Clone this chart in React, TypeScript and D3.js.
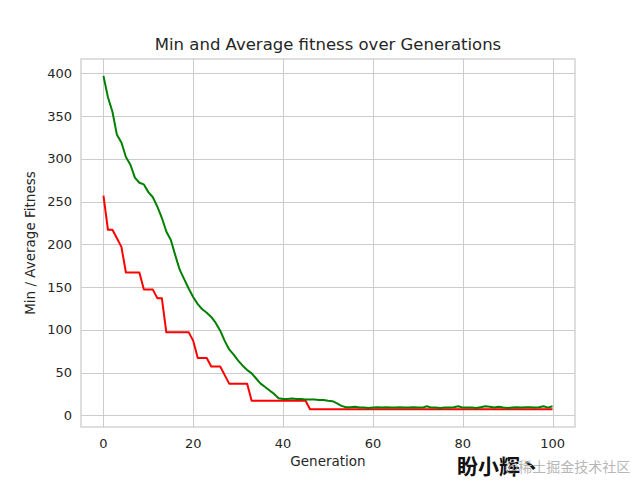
import React, { useEffect, useRef } from 'react';
import * as d3 from 'd3';

// Best (min) fitness of each generation
const minFitness: number[] = [
  257, 217, 217, 207, 197, 167, 167, 167, 167, 147,
  147, 147, 137, 137, 97, 97, 97, 97, 97, 97,
  87, 67, 67, 67, 57, 57, 57, 47, 37, 37,
  37, 37, 37, 17, 17, 17, 17, 17, 17, 17,
  17, 17, 17, 17, 17, 17, 7, 7, 7, 7,
  7, 7, 7, 7, 7, 7, 7, 7, 7, 7,
  7, 7, 7, 7, 7, 7, 7, 7, 7, 7,
  7, 7, 7, 7, 7, 7, 7, 7, 7, 7,
  7, 7, 7, 7, 7, 7, 7, 7, 7, 7,
  7, 7, 7, 7, 7, 7, 7, 7, 7, 7,
  7,
];

// Population average fitness of each generation
const meanFitness: number[] = [
  397, 372, 355, 328, 319, 302, 293, 278, 272, 270,
  261, 255, 244, 231, 215, 205, 187, 170, 159, 148,
  138, 130, 124, 120, 115, 108, 99, 87, 77, 71,
  64, 58, 53, 49, 43, 37, 33, 29, 25, 20,
  19, 19, 19.5, 19, 19, 18.5, 18.5, 18.5, 18, 18,
  17, 16.5, 14, 11, 9.5, 9.5, 10, 9, 9, 8.5,
  9, 9.5, 9, 9.5, 9, 9, 9.5, 9, 9, 9.5,
  9, 9, 10.5, 9, 9, 8.5, 9, 9, 9.5, 10.5,
  9, 9, 9, 8.5, 9.5, 10.5, 10, 9, 10, 9,
  8.5, 9, 9.5, 9, 9.5, 9.5, 9, 9.5, 10.5, 9,
  10.5,
];

const xTicks: number[] = [0, 20, 40, 60, 80, 100];
const yTicks: number[] = [0, 50, 100, 150, 200, 250, 300, 350, 400];

const FitnessChart = ({ width = 640, height = 490 }) => {
  const svgRef = useRef<SVGSVGElement>(null);

  useEffect(() => {
    const svg = d3.select(svgRef.current);
    svg.selectAll('*').remove();

    const left = 81, right = 575, top = 59, bottom = 427;
    const textColor = '#262626';
    const gridColor = '#cccccc';
    const font = '"DejaVu Sans", sans-serif';

    const gens = d3.range(minFitness.length);
    const xScale = d3.scaleLinear().domain([-5, 105]).range([left, right]);
    const yScale = d3.scaleLinear().domain([-13.7, 416.7]).range([bottom, top]);

    svg.append('rect')
      .attr('width', width)
      .attr('height', height)
      .attr('fill', 'white');

    // grid
    const grid = svg.append('g').attr('stroke', gridColor).attr('stroke-width', 1);
    grid.selectAll('.vgrid')
      .data(xTicks)
      .enter()
      .append('line')
      .attr('x1', d => Math.round(xScale(d)) + 0.5)
      .attr('x2', d => Math.round(xScale(d)) + 0.5)
      .attr('y1', top)
      .attr('y2', bottom);
    grid.selectAll('.hgrid')
      .data(yTicks)
      .enter()
      .append('line')
      .attr('x1', left)
      .attr('x2', right)
      .attr('y1', d => Math.round(yScale(d)) + 0.5)
      .attr('y2', d => Math.round(yScale(d)) + 0.5);

    // frame
    svg.append('rect')
      .attr('x', left)
      .attr('y', top)
      .attr('width', right - left)
      .attr('height', bottom - top)
      .attr('fill', 'none')
      .attr('stroke', gridColor)
      .attr('stroke-width', 1.3);

    // lines
    const line = d3.line<number>()
      .x((_, i) => xScale(gens[i]))
      .y(d => yScale(d));

    svg.append('path')
      .datum(minFitness)
      .attr('fill', 'none')
      .attr('stroke', '#ff0000')
      .attr('stroke-width', 2)
      .attr('stroke-linejoin', 'round')
      .attr('d', line);

    svg.append('path')
      .datum(meanFitness)
      .attr('fill', 'none')
      .attr('stroke', '#008000')
      .attr('stroke-width', 2)
      .attr('stroke-linejoin', 'round')
      .attr('d', line);

    // tick labels
    svg.append('g')
      .selectAll('text')
      .data(xTicks)
      .enter()
      .append('text')
      .attr('x', d => xScale(d))
      .attr('y', bottom + 21)
      .attr('text-anchor', 'middle')
      .attr('font-family', font)
      .attr('font-size', 13)
      .attr('fill', textColor)
      .text(d => d);

    svg.append('g')
      .selectAll('text')
      .data(yTicks)
      .enter()
      .append('text')
      .attr('x', left - 9)
      .attr('y', d => yScale(d))
      .attr('dy', '0.36em')
      .attr('text-anchor', 'end')
      .attr('font-family', font)
      .attr('font-size', 13)
      .attr('fill', textColor)
      .text(d => d);

    // axis titles
    svg.append('text')
      .attr('x', (left + right) / 2)
      .attr('y', 466)
      .attr('text-anchor', 'middle')
      .attr('font-family', font)
      .attr('font-size', 13.5)
      .attr('fill', textColor)
      .text('Generation');

    svg.append('text')
      .attr('transform', `translate(35,${(top + bottom) / 2}) rotate(-90)`)
      .attr('text-anchor', 'middle')
      .attr('font-family', font)
      .attr('font-size', 13.5)
      .attr('fill', textColor)
      .text('Min / Average Fitness');

    svg.append('text')
      .attr('x', (left + right) / 2)
      .attr('y', 50)
      .attr('text-anchor', 'middle')
      .attr('font-family', font)
      .attr('font-size', 16.5)
      .attr('fill', textColor)
      .text('Min and Average fitness over Generations');

    // watermark
    svg.append('text')
      .attr('x', 457)
      .attr('y', 474)
      .attr('font-family', '"Noto Sans CJK SC", sans-serif')
      .attr('font-weight', 'bold')
      .attr('font-size', 21)
      .attr('fill', '#111')
      .text('盼小辉丶');

    svg.append('text')
      .attr('x', 505)
      .attr('y', 472)
      .attr('font-family', '"Noto Sans CJK SC", sans-serif')
      .attr('font-size', 14)
      .attr('fill', '#b0b0b0')
      .attr('opacity', 0.9)
      .text('@稀土掘金技术社区');
  }, [width, height]);

  return (
    <svg
      ref={svgRef}
      width={width}
      height={height}
      style={{ position: 'absolute', left: 0, top: 0 }}
    />
  );
};

export default function App() {
  return <FitnessChart />;
}
